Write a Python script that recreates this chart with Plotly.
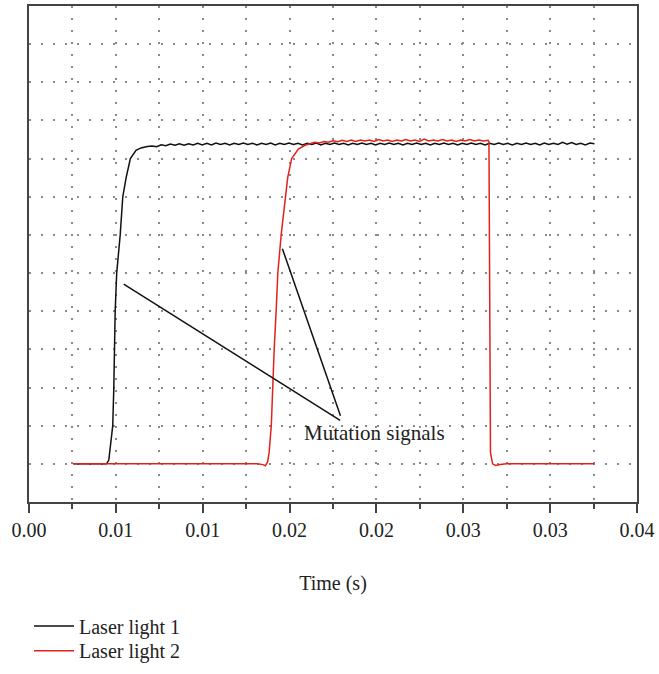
import plotly.graph_objects as go

# ---------------- data ----------------
t_laser1 = [0.0029, 0.0051, 0.00525, 0.00535, 0.00551, 0.00558, 0.00562, 0.00567, 0.00577,
            0.0060, 0.00617, 0.00639, 0.00667, 0.00704, 0.00737, 0.00778,
            0.0081, 0.0084, 0.0087, 0.0090, 0.0093, 0.0096, 0.0099, 0.0102, 0.0105, 0.0108,
            0.0111, 0.0114, 0.0117, 0.0120, 0.0123, 0.0126, 0.0129, 0.0132, 0.0135, 0.0138,
            0.0141, 0.0144, 0.0147, 0.0150, 0.0153, 0.0156, 0.0159, 0.0162, 0.0165, 0.0168,
            0.0171, 0.0174, 0.0177, 0.0180, 0.0183, 0.0186, 0.0189, 0.0192, 0.0195, 0.0198,
            0.0201, 0.0204, 0.0207, 0.0210, 0.0213, 0.0216, 0.0219, 0.0222, 0.0225, 0.0228,
            0.0231, 0.0234, 0.0237, 0.0240, 0.0243, 0.0246, 0.0249, 0.0252, 0.0255, 0.0258,
            0.0261, 0.0264, 0.0267, 0.0270, 0.0273, 0.0276, 0.0279, 0.0282, 0.0285, 0.0288,
            0.0291, 0.0294, 0.0297, 0.0300, 0.0303, 0.0306, 0.0309, 0.0312, 0.0315, 0.0318,
            0.0321, 0.0324, 0.0327, 0.0330, 0.0333, 0.0336, 0.0339, 0.0342, 0.0345, 0.0348,
            0.0351, 0.0354, 0.0357, 0.0360, 0.0363, 0.0366, 0.0369, 0.0372]
v_laser1 = [0.0, 0.0, 0.1, 0.5, 1.0, 2.0, 3.0, 4.0, 5.0,
            6.0, 7.0, 7.5, 8.0, 8.22, 8.28, 8.32,
            8.33, 8.31, 8.36, 8.34, 8.38, 8.35, 8.39, 8.35, 8.39, 8.36,
            8.40, 8.36, 8.40, 8.36, 8.41, 8.37, 8.40, 8.36, 8.40, 8.37,
            8.41, 8.37, 8.40, 8.36, 8.40, 8.37, 8.41, 8.36, 8.40, 8.37,
            8.41, 8.37, 8.40, 8.36, 8.40, 8.37, 8.41, 8.36, 8.40, 8.37,
            8.41, 8.37, 8.40, 8.36, 8.40, 8.37, 8.41, 8.37, 8.40, 8.36,
            8.40, 8.37, 8.41, 8.37, 8.40, 8.36, 8.40, 8.37, 8.41, 8.37,
            8.40, 8.36, 8.40, 8.37, 8.41, 8.37, 8.40, 8.36, 8.40, 8.37,
            8.41, 8.37, 8.40, 8.36, 8.40, 8.37, 8.41, 8.37, 8.40, 8.36,
            8.40, 8.37, 8.41, 8.37, 8.40, 8.36, 8.41, 8.37, 8.40, 8.37,
            8.43, 8.38, 8.42, 8.37, 8.40, 8.36, 8.41, 8.39]

t_laser2 = [0.0029, 0.0150, 0.0154, 0.01555, 0.0157, 0.0158, 0.01594, 0.01602, 0.01613,
            0.01626, 0.01637, 0.01659, 0.01685, 0.01702, 0.01728, 0.01772, 0.01816,
            0.0185, 0.0188, 0.0191, 0.0194, 0.0197, 0.0200, 0.0203, 0.0206, 0.0209, 0.0212,
            0.0215, 0.0218, 0.0221, 0.0224, 0.0227, 0.0230, 0.0233, 0.0236, 0.0239, 0.0242,
            0.0245, 0.0248, 0.0251, 0.0254, 0.0257, 0.0260, 0.0263, 0.0266, 0.0269, 0.0272,
            0.0275, 0.0278, 0.0281, 0.0284, 0.0287, 0.0290, 0.0293, 0.0296, 0.0299, 0.0302,
            0.03026, 0.03032, 0.03036, 0.0305, 0.0307, 0.0310, 0.0314, 0.0372]
v_laser2 = [0.0, 0.0, -0.02, -0.05, 0.05, 0.3, 1.0, 2.0, 3.0,
            4.0, 5.0, 6.0, 7.0, 7.5, 8.0, 8.25, 8.35,
            8.40, 8.43, 8.41, 8.45, 8.43, 8.47, 8.44, 8.48, 8.45, 8.49,
            8.45, 8.49, 8.46, 8.49, 8.45, 8.50, 8.46, 8.49, 8.45, 8.49,
            8.46, 8.50, 8.46, 8.49, 8.45, 8.51, 8.46, 8.49, 8.46, 8.50,
            8.46, 8.49, 8.45, 8.49, 8.46, 8.50, 8.46, 8.49, 8.46, 8.48,
            8.45, 4.0, 0.3, 0.0, -0.04, -0.02, 0.0, 0.0]

# callout: text and leader lines (data units)
callout_text = "Mutation signals"
callout_pos = (0.01794, 0.8)
leader_x0 = [0.00623, 0.01667]
leader_y0 = [4.71, 5.64]
leader_x1 = [0.02047, 0.02049]
leader_y1 = [1.14, 1.26]

series_names = ["Laser light 1", "Laser light 2"]
series_colors = ["#111111", "#e3211b"]

x_major = [i * 0.04 / 7 for i in range(8)]
x_minor = [(i + 0.5) * 0.04 / 7 for i in range(7)]
y_grid = list(range(0, 12))

FONT = "Liberation Serif, Times New Roman, serif"
GRID = dict(gridcolor="#8a8a8a", gridwidth=1.5, griddash="1.5px,10.5px")

fig = go.Figure()
fig.add_trace(go.Scatter(x=t_laser1, y=v_laser1, mode="lines", name=series_names[0],
                         legend="legend",
                         line=dict(color=series_colors[0], width=1.5)))
fig.add_trace(go.Scatter(x=t_laser2, y=v_laser2, mode="lines", name=series_names[1],
                         legend="legend2",
                         line=dict(color=series_colors[1], width=1.5)))

for x0, y0, x1, y1 in zip(leader_x0, leader_y0, leader_x1, leader_y1):
    fig.add_shape(type="line", x0=x0, y0=y0, x1=x1, y1=y1, xref="x", yref="y",
                  line=dict(color="#111111", width=1.5))

fig.add_annotation(x=callout_pos[0], y=callout_pos[1], text=callout_text, showarrow=False,
                   xanchor="left", yanchor="middle", font=dict(family=FONT, size=21, color="#222"))

LEG = dict(x=0.0, xanchor="left", yanchor="top", orientation="v",
           font=dict(family=FONT, size=20, color="#222"), itemwidth=40,
           bgcolor="rgba(0,0,0,0)")

fig.update_layout(
    width=659, height=674,
    margin=dict(l=29, r=18, t=4, b=167),
    paper_bgcolor="white", plot_bgcolor="white",
    font=dict(family=FONT, size=20, color="#222"),
    showlegend=True,
    legend=dict(y=-0.2107, **LEG),
    legend2=dict(y=-0.2604, **LEG),
    xaxis=dict(range=[0, 0.04], tickmode="array", tickvals=x_major,
               ticktext=[f"{v:.2f}" for v in x_major],
               ticks="outside", ticklen=9, tickwidth=1.5, tickcolor="#444",
               showline=True, linecolor="#444", linewidth=1.5, mirror=True,
               showgrid=True, zeroline=False,
               minor=dict(tickmode="array", tickvals=x_minor, ticks="outside", ticklen=5,
                          tickwidth=1.5, tickcolor="#444", showgrid=True, **GRID),
               title=dict(text="Time (s)", standoff=36, font=dict(family=FONT, size=20)),
               tickfont=dict(family=FONT, size=20, color="#222"),
               **GRID),
    yaxis=dict(range=[-1, 12], tickmode="array", tickvals=y_grid, showticklabels=False,
               ticks="", showline=True, linecolor="#444", linewidth=1.5, mirror=True,
               showgrid=True, zeroline=False, **GRID),
)

fig.write_html("out.html")
